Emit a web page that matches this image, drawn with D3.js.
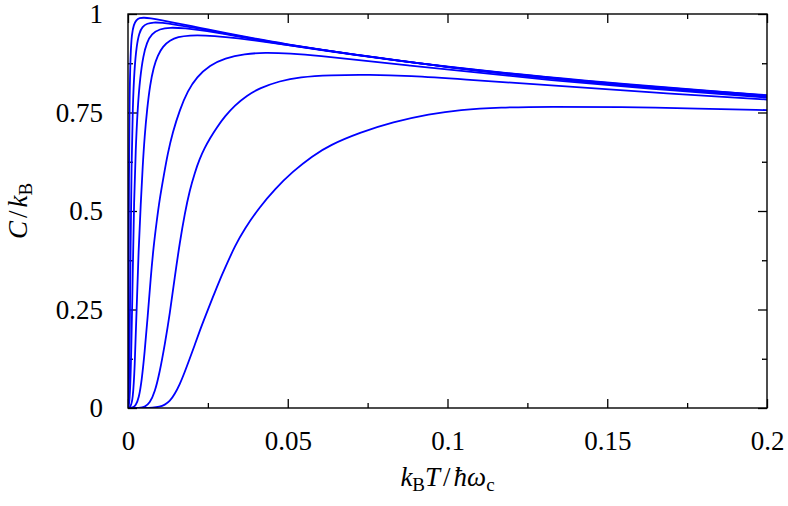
<!DOCTYPE html>
<html>
<head>
<meta charset="utf-8">
<script src="https://cdn.jsdelivr.net/npm/d3@7"></script>
<style>
  body { margin: 0; background: #fff; }
  svg { display: block; }
  .tick text { font-family: "Liberation Serif", "Times New Roman", serif; font-size: 27px; fill: #000; }
</style>
</head>
<body>
<div id="canvas"></div>
<script>
// tick values
var xMajor = [0, 0.05, 0.1, 0.15, 0.2];
var xMinor = [0.025, 0.075, 0.125, 0.175];
var yMajor = [0, 0.25, 0.5, 0.75, 1];
var yMinor = [0.125, 0.375, 0.625, 0.875];

// curves: kT/hw and C/k
var t1 = [0, 0.0001, 0.0002, 0.0003, 0.0005, 0.0008, 0.0012, 0.0018, 0.0026, 0.0036, 0.005, 0.007, 0.01, 0.015, 0.02, 0.025, 0.03, 0.04, 0.05, 0.06, 0.07, 0.08, 0.09, 0.1, 0.12, 0.14, 0.16, 0.18, 0.2];
var c1 = [0, 0.05, 0.3, 0.6, 0.8, 0.9, 0.95, 0.973, 0.985, 0.99, 0.991, 0.989, 0.985, 0.977, 0.969, 0.961, 0.953, 0.937, 0.923, 0.91, 0.898, 0.887, 0.876, 0.866, 0.848, 0.832, 0.818, 0.805, 0.794];

var t2 = [0, 0.0003, 0.0005, 0.0008, 0.0011, 0.0015, 0.002, 0.0027, 0.0035, 0.0045, 0.006, 0.008, 0.0105, 0.015, 0.02, 0.025, 0.03, 0.04, 0.05, 0.07, 0.1, 0.14, 0.2];
var c2 = [0, 0.03, 0.15, 0.4, 0.62, 0.77, 0.86, 0.92, 0.952, 0.968, 0.976, 0.979, 0.978, 0.973, 0.966, 0.959, 0.951, 0.936, 0.922, 0.897, 0.865, 0.832, 0.793];

var t3 = [0, 0.0005, 0.001, 0.0015, 0.0019, 0.0024, 0.003, 0.0038, 0.0048, 0.0059, 0.0074, 0.0099, 0.0131, 0.0177, 0.024, 0.035, 0.05, 0.0694, 0.1, 0.1302, 0.1601, 0.2];
var c3 = [0, 0.01, 0.12, 0.35, 0.53, 0.654, 0.76, 0.84, 0.895, 0.928, 0.95, 0.962, 0.966, 0.964, 0.958, 0.942, 0.921, 0.898, 0.865, 0.838, 0.816, 0.792];

var t4 = [0, 0.0008, 0.0015, 0.0021, 0.0027, 0.0033, 0.004, 0.0046, 0.0052, 0.006, 0.0069, 0.008, 0.0093, 0.0109, 0.0131, 0.0156, 0.0193, 0.024, 0.0303, 0.0381, 0.05, 0.0694, 0.1, 0.1302, 0.1601, 0.2];
var c4 = [0, 0.003, 0.02, 0.1, 0.25, 0.4, 0.52, 0.615, 0.69, 0.76, 0.82, 0.865, 0.895, 0.918, 0.933, 0.942, 0.946, 0.946, 0.942, 0.935, 0.921, 0.899, 0.864, 0.837, 0.814, 0.79];

var t5 = [0, 0.0015, 0.0024, 0.0034, 0.0043, 0.0052, 0.0062, 0.0071, 0.008, 0.009, 0.0099, 0.0112, 0.0124, 0.014, 0.0162, 0.0187, 0.0215, 0.0256, 0.0303, 0.0365, 0.0428, 0.0506, 0.06, 0.0725, 0.0882, 0.1038, 0.132, 0.1633, 0.2];
var c5 = [0, 0.001, 0.006, 0.025, 0.07, 0.14, 0.235, 0.33, 0.41, 0.475, 0.53, 0.59, 0.645, 0.7, 0.757, 0.805, 0.84, 0.87, 0.888, 0.899, 0.902, 0.9, 0.894, 0.883, 0.869, 0.856, 0.832, 0.81, 0.788];

var t6 = [0, 0.0037, 0.0052, 0.0068, 0.0084, 0.0099, 0.0115, 0.0131, 0.0146, 0.0162, 0.0178, 0.0193, 0.0209, 0.0224, 0.024, 0.0256, 0.0278, 0.0303, 0.0334, 0.0372, 0.0412, 0.0475, 0.0537, 0.0631, 0.0756, 0.0882, 0.1038, 0.132, 0.1633, 0.2];
var c6 = [0, 0, 0.002, 0.012, 0.04, 0.09, 0.16, 0.24, 0.33, 0.42, 0.495, 0.552, 0.597, 0.632, 0.66, 0.684, 0.712, 0.74, 0.768, 0.793, 0.812, 0.83, 0.84, 0.845, 0.846, 0.843, 0.835, 0.819, 0.801, 0.783];

var t7 = [0, 0.005, 0.0077, 0.0099, 0.0115, 0.0131, 0.0146, 0.0162, 0.0177, 0.0193, 0.0209, 0.0224, 0.0243, 0.0265, 0.0287, 0.0309, 0.0334, 0.0365, 0.0412, 0.0459, 0.0515, 0.0578, 0.0631, 0.0725, 0.0829, 0.0944, 0.1038, 0.1163, 0.132, 0.1539, 0.179, 0.2];
var c7 = [0, 0, 0.0005, 0.003, 0.008, 0.017, 0.035, 0.06, 0.09, 0.125, 0.16, 0.195, 0.235, 0.28, 0.325, 0.365, 0.41, 0.455, 0.51, 0.555, 0.6, 0.64, 0.667, 0.699, 0.726, 0.746, 0.757, 0.763, 0.765, 0.764, 0.76, 0.756];

var series = [[t1, c1], [t2, c2], [t3, c3], [t4, c4], [t5, c5], [t6, c6], [t7, c7]];

var margin = {top: 14, right: 21, bottom: 98, left: 128};
var width = 788 - margin.left - margin.right;
var height = 506 - margin.top - margin.bottom;

var svg = d3.select("#canvas")
            .append("svg")
                .attr("width", 788)
                .attr("height", 506)
            .append("g")
                .attr("transform", "translate(" + margin.left + "," + margin.top + ")");

var xScale = d3.scaleLinear().domain([0, 0.2]).range([0, width]);
var yScale = d3.scaleLinear().domain([0, 1]).range([height, 0]);

var fmt = function(d) { return String(d); };

// bottom axis with labels
svg.append("g")
    .attr("transform", "translate(0," + height + ")")
    .call(d3.axisBottom(xScale).tickValues(xMajor).tickSize(-9).tickFormat(fmt))
    .selectAll("text")
        .attr("y", 42)
        .attr("dy", null);
svg.append("g")
    .attr("transform", "translate(0," + height + ")")
    .call(d3.axisBottom(xScale).tickValues(xMinor).tickSize(-5).tickFormat(""));
// top mirror
svg.append("g")
    .call(d3.axisTop(xScale).tickValues(xMajor).tickSize(-9).tickFormat(""));
svg.append("g")
    .call(d3.axisTop(xScale).tickValues(xMinor).tickSize(-5).tickFormat(""));

// left axis with labels
svg.append("g")
    .call(d3.axisLeft(yScale).tickValues(yMajor).tickSize(-9).tickFormat(fmt))
    .selectAll("text")
        .attr("x", -25)
        .attr("dy", "0.33em");
svg.append("g")
    .call(d3.axisLeft(yScale).tickValues(yMinor).tickSize(-5).tickFormat(""));
// right mirror
svg.append("g")
    .attr("transform", "translate(" + width + ",0)")
    .call(d3.axisRight(yScale).tickValues(yMajor).tickSize(-9).tickFormat(""));
svg.append("g")
    .attr("transform", "translate(" + width + ",0)")
    .call(d3.axisRight(yScale).tickValues(yMinor).tickSize(-5).tickFormat(""));

svg.selectAll(".domain").remove();
svg.selectAll(".tick line").attr("stroke", "#000").attr("stroke-width", 1.3);

// curves
var line = d3.line()
    .x(function(d) { return xScale(d[0]); })
    .y(function(d) { return yScale(d[1]); })
    .curve(d3.curveBasis);

svg.append("clipPath").attr("id", "clip")
    .append("rect").attr("width", width).attr("height", height);

svg.append("g")
    .attr("clip-path", "url(#clip)")
    .selectAll("path")
    .data(series)
    .enter().append("path")
        .attr("d", function(s) { return line(s[0].map(function(t, i) { return [t, s[1][i]]; })); })
        .attr("fill", "none")
        .attr("stroke", "#0000ff")
        .attr("stroke-width", 1.8);

// frame
svg.append("rect")
    .attr("width", width)
    .attr("height", height)
    .attr("fill", "none")
    .attr("stroke", "#000")
    .attr("stroke-width", 1.4);

// axis titles
var serif = "'Liberation Serif', 'Times New Roman', serif";
var xt = svg.append("text")
    .attr("x", width / 2)
    .attr("y", height + 78)
    .attr("text-anchor", "middle")
    .attr("font-family", serif)
    .attr("font-size", 27);
xt.append("tspan").attr("font-style", "italic").text("k");
xt.append("tspan").attr("font-size", 19).attr("dy", 5).text("B");
xt.append("tspan").attr("font-style", "italic").attr("dy", -5).text("T");
xt.append("tspan").attr("dx", 3).text("/");
xt.append("tspan").attr("dx", 3).attr("font-style", "italic").text("ħω");
xt.append("tspan").attr("font-size", 19).attr("dy", 5).text("c");

var yt = svg.append("text")
    .attr("transform", "translate(" + (27 - margin.left) + "," + (height / 2) + ") rotate(-90)")
    .attr("text-anchor", "middle")
    .attr("font-family", serif)
    .attr("font-size", 27);
yt.append("tspan").attr("font-style", "italic").text("C");
yt.append("tspan").attr("dx", 3).text("/");
yt.append("tspan").attr("dx", 3).attr("font-style", "italic").text("k");
yt.append("tspan").attr("font-size", 19).attr("dy", 5).text("B");
</script>
</body>
</html>
